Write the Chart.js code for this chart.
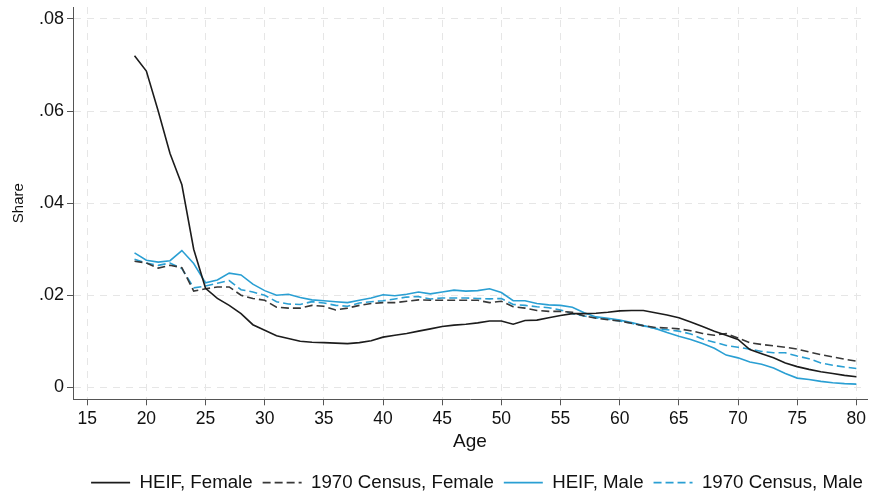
<!DOCTYPE html>
<html>
<head>
<meta charset="utf-8">
<script src="https://cdn.jsdelivr.net/npm/chart.js@4/dist/chart.umd.min.js"></script>
<style>
html,body{margin:0;padding:0;background:#fff;}
#wrap{width:870px;height:497px;position:relative;}
</style>
</head>
<body>
<div id="wrap"><canvas id="c" width="870" height="497"></canvas></div>
<script>
const ages = [];
for (let a = 19; a <= 80; a++) ages.push(a);

const heifFemale = [
 .0720,.0687,.0600,.0508,.0440,.0300,.0215,.0193,.0178,.0160,
 .0136,.0124,.0112,.0106,.0100,.0098,.0097,.0096,.0095,.0097,
 .0101,.0109,.0113,.0117,.0122,.0127,.0132,.0135,.0137,.0140,
 .0144,.0144,.0137,.0145,.0146,.0151,.0156,.0160,.0160,.0161,
 .0163,.0166,.0167,.0167,.0162,.0157,.0151,.0142,.0132,.0122,
 .0113,.0104,.0082,.0073,.0064,.0053,.0045,.0039,.0034,.0030,
 .0026,.0023];
const censusFemale = [
 .0274,.0270,.0259,.0265,.0260,.0209,.0214,.0218,.0218,.0200,
 .0193,.0189,.0174,.0172,.0172,.0178,.0176,.0168,.0172,.0178,
 .0182,.0184,.0184,.0187,.0190,.0189,.0189,.0189,.0189,.0189,
 .0184,.0187,.0175,.0172,.0167,.0165,.0165,.0163,.0155,.0150,
 .0147,.0144,.0139,.0134,.0130,.0129,.0127,.0123,.0117,.0113,
 .0117,.0107,.0097,.0093,.0090,.0087,.0083,.0077,.0071,.0066,
 .0061,.0057];
const heifMale = [
 .0292,.0276,.0272,.0275,.0297,.0269,.0227,.0233,.0248,.0244,
 .0224,.0210,.0200,.0202,.0195,.0190,.0188,.0186,.0184,.0189,
 .0194,.0201,.0199,.0202,.0207,.0203,.0207,.0211,.0209,.0210,
 .0214,.0206,.0188,.0188,.0182,.0179,.0178,.0174,.0162,.0153,
 .0150,.0146,.0141,.0134,.0128,.0119,.0111,.0104,.0095,.0085,
 .0070,.0064,.0055,.0050,.0042,.0030,.0020,.0017,.0013,.0010,
 .0008,.0007];
const censusMale = [
 .0278,.0270,.0265,.0270,.0258,.0216,.0220,.0226,.0232,.0212,
 .0207,.0200,.0186,.0181,.0180,.0186,.0183,.0178,.0176,.0183,
 .0186,.0188,.0192,.0196,.0197,.0192,.0194,.0194,.0194,.0193,
 .0192,.0193,.0180,.0178,.0175,.0173,.0168,.0160,.0155,.0151,
 .0148,.0144,.0139,.0133,.0128,.0125,.0122,.0116,.0105,.0098,
 .0091,.0087,.0083,.0078,.0075,.0075,.0068,.0062,.0053,.0048,
 .0044,.0041];

const xTicks = [15,20,25,30,35,40,45,50,55,60,65,70,75,80];
const yTicks = [0,0.02,0.04,0.06,0.08];
const seriesNames = ['HEIF, Female','1970 Census, Female','HEIF, Male','1970 Census, Male'];

const BLACK = '#1c1c1c';
const DASHBLACK = '#383838';
const BLUE = '#2a9fd3';
const FONT = "'Liberation Sans', Arial, sans-serif";
const DASH = [8,4];

function pts(vals){ return ages.map((a,i)=>({x:a,y:vals[i]})); }

const common = {fill:false, pointRadius:0, borderWidth:1.6, tension:0, pointStyle:'line'};

const gridOpts = {color:'#e6e6e6', lineWidth:1, tickColor:'#555', tickBorderDash:[], tickLength:6, tickWidth:1};
const borderOpts = {color:'#555', width:1, dash:[7,6]};

const shiftLegend = {
  id:'shiftLegend',
  afterLayout(chart){ const l = chart.legend; if (l) { l.left += 7; l.right += 7; } }
};

new Chart(document.getElementById('c'), {
  type:'line',
  data:{datasets:[
    Object.assign({label:seriesNames[0], data:pts(heifFemale), borderColor:BLACK, backgroundColor:BLACK}, common),
    Object.assign({label:seriesNames[1], data:pts(censusFemale), borderColor:DASHBLACK, backgroundColor:DASHBLACK, borderDash:DASH}, common),
    Object.assign({label:seriesNames[2], data:pts(heifMale), borderColor:BLUE, backgroundColor:BLUE}, common),
    Object.assign({label:seriesNames[3], data:pts(censusMale), borderColor:BLUE, backgroundColor:BLUE, borderDash:DASH}, common)
  ]},
  plugins:[shiftLegend],
  options:{
    responsive:false, animation:false, maintainAspectRatio:false,
    layout:{padding:{top:7,right:3,left:0,bottom:-5}},
    plugins:{
      tooltip:{enabled:false},
      legend:{
        position:'bottom', fullSize:false,
        labels:{usePointStyle:true, pointStyle:'line', pointStyleWidth:39, padding:10,
          color:'#111', font:{family:FONT, size:18.7},
          generateLabels: chart => chart.data.datasets.map((ds,i)=>({
            text:ds.label, strokeStyle:ds.borderColor, fillStyle:ds.borderColor,
            lineWidth:1.6, lineDash:ds.borderDash||[], pointStyle:'line',
            datasetIndex:i, hidden:false, fontColor:'#111'
          }))
        }
      }
    },
    scales:{
      x:{type:'linear', min:13.8, max:80.9,
        afterBuildTicks:s=>{s.ticks = xTicks.map(v=>({value:v}));},
        afterFit:s=>{s.height = 64;},
        border:borderOpts,
        grid:gridOpts,
        ticks:{color:'#111', font:{family:FONT, size:17.5}, padding:3, maxRotation:0, autoSkip:false},
        title:{display:true, text:'Age', color:'#111', font:{family:FONT, size:19}, padding:{top:0,bottom:10}}
      },
      y:{type:'linear', min:-0.0026, max:0.0826,
        afterBuildTicks:s=>{s.ticks = yTicks.map(v=>({value:v}));},
        afterFit:s=>{s.width = 73; s.paddingTop = 0; s.paddingBottom = 0;},
        border:borderOpts,
        grid:gridOpts,
        ticks:{color:'#111', font:{family:FONT, size:18}, padding:3, autoSkip:false,
          callback:v=> v===0 ? '0' : v.toFixed(2).replace(/^0/,'')},
        title:{display:true, text:'Share', color:'#111', font:{family:FONT, size:15}, padding:{top:10,bottom:0}}
      }
    }
  }
});
</script>
</body>
</html>
